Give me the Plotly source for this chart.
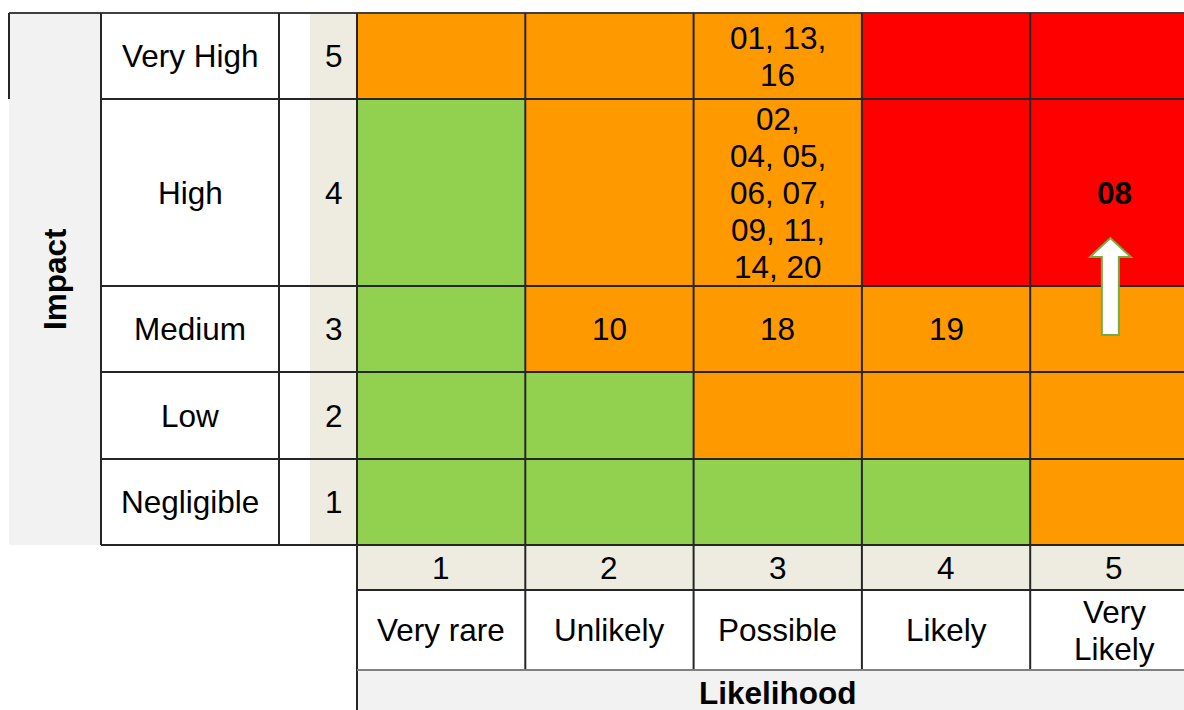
import plotly.graph_objects as go

# ---------------- data ----------------
impact_levels = [5, 4, 3, 2, 1]
impact_labels = ["Very High", "High", "Medium", "Low", "Negligible"]
likelihood_levels = [1, 2, 3, 4, 5]
likelihood_labels = ["Very rare", "Unlikely", "Possible", "Likely", "Very<br>Likely"]

# risk rating per cell (rows: impact 5..1, cols: likelihood 1..5)
# 0 = low (green), 1 = medium (orange), 2 = high (red)
risk_rating = [
    [1, 1, 1, 2, 2],
    [0, 1, 1, 2, 2],
    [0, 1, 1, 1, 1],
    [0, 0, 1, 1, 1],
    [0, 0, 0, 0, 1],
]
risk_ids = [
    ["", "", "01, 13,<br>16", "", ""],
    ["", "", "02,<br>04, 05,<br>06, 07,<br>09, 11,<br>14, 20", "", "<b>08</b>"],
    ["", "10", "18", "19", ""],
    ["", "", "", "", ""],
    ["", "", "", "", ""],
]
# movement of risk 08: (likelihood, impact) from -> to
arrow_from = (5, 3)
arrow_to = (5, 4)

rating_colors = ["#92D050", "#FF9900", "#FF0000"]
axis_titles = ["Impact", "Likelihood"]

# ---------------- layout geometry ----------------
W, H = 1184, 710
FS = 31.5
LH = 37
FONT = "Liberation Sans, Arial, sans-serif"
GRAY = "#F2F2F2"
BEIGE = "#EEECE1"
LINE = "#262626"

gray_x0, label_x0, blank_x0, num_x0, grid_x0 = 9, 101, 279, 310, 357
col_w = 168.3
top = 13
row_h = [86, 187, 86, 87, 86]
y_edges = [top]
for h in row_h:
    y_edges.append(y_edges[-1] + h)
x_edges = [grid_x0 + i * col_w for i in range(len(likelihood_levels) + 1)]
bottom = y_edges[-1]
num_row = (bottom, bottom + 45)
lab_row = (num_row[1], num_row[1] + 80)
title_row = (lab_row[1], lab_row[1] + 48)

fig = go.Figure()

# matrix cells via heatmap with bin edges
fig.add_trace(go.Heatmap(
    z=risk_rating, x=x_edges, y=y_edges,
    colorscale=[[0, rating_colors[0]], [0.333, rating_colors[0]],
                [0.334, rating_colors[1]], [0.666, rating_colors[1]],
                [0.667, rating_colors[2]], [1, rating_colors[2]]],
    zmin=0, zmax=2, showscale=False, hoverinfo="skip",
))

shapes = []

def rect(x0, x1, y0, y1, color):
    shapes.append(dict(type="rect", x0=x0, x1=x1, y0=y0, y1=y1, xref="x", yref="y",
                       fillcolor=color, line=dict(width=0), layer="below"))

def line(x0, y0, x1, y1, color=LINE, width=2):
    shapes.append(dict(type="line", x0=x0, x1=x1, y0=y0, y1=y1, xref="x", yref="y",
                       line=dict(color=color, width=width), layer="above"))

# backgrounds
rect(gray_x0, label_x0, top, bottom, GRAY)
rect(num_x0, grid_x0, top, bottom, BEIGE)
rect(grid_x0, W + 20, num_row[0], num_row[1], BEIGE)
rect(grid_x0, W + 20, title_row[0], title_row[1], GRAY)

# borders
line(gray_x0, top, W + 20, top, color="#404040")
line(gray_x0, top, gray_x0, y_edges[1])
line(label_x0, top, label_x0, bottom)
line(blank_x0, top, blank_x0, bottom)
for ye in y_edges[1:]:
    line(label_x0, ye, W + 20, ye)
line(grid_x0, top, grid_x0, H + 20)
for xe in x_edges[1:-1]:
    line(xe, top, xe, lab_row[1])
line(grid_x0, num_row[1], W + 20, num_row[1])
line(grid_x0, lab_row[1], W + 20, lab_row[1], color="#808080")

annotations = []

def text(cx, cy, t, bold=False, angle=0):
    parts = t.split("<br>")
    n = len(parts)
    for i, p in enumerate(parts):
        annotations.append(dict(
            x=cx, y=cy + (i - (n - 1) / 2) * LH, xref="x", yref="y",
            text=f"<b>{p}</b>" if bold else p, showarrow=False,
            xanchor="center", yanchor="middle", textangle=angle,
            font=dict(family=FONT, size=FS, color="#000000")))

# impact labels / levels
for r, (lvl, lab) in enumerate(zip(impact_levels, impact_labels)):
    cy = (y_edges[r] + y_edges[r + 1]) / 2
    text((label_x0 + blank_x0) / 2, cy, lab)
    text((num_x0 + grid_x0) / 2, cy, str(lvl))

# likelihood levels / labels
for c, (lvl, lab) in enumerate(zip(likelihood_levels, likelihood_labels)):
    cx = (x_edges[c] + x_edges[c + 1]) / 2
    text(cx, sum(num_row) / 2, str(lvl))
    text(cx, sum(lab_row) / 2, lab)

# risk IDs
for r in range(len(impact_levels)):
    for c in range(len(likelihood_levels)):
        if risk_ids[r][c]:
            cx = (x_edges[c] + x_edges[c + 1]) / 2
            cy = (y_edges[r] + y_edges[r + 1]) / 2
            text(cx, cy, risk_ids[r][c])

# axis titles
text((gray_x0 + label_x0) / 2, (top + bottom) / 2, axis_titles[0], bold=True, angle=-90)
text((x_edges[0] + x_edges[-1]) / 2, title_row[0] + 23, axis_titles[1], bold=True)

# arrow for risk movement
c_from = likelihood_levels.index(arrow_from[0])
r_from = impact_levels.index(arrow_from[1])
r_to = impact_levels.index(arrow_to[1])
ax = (x_edges[c_from] + x_edges[c_from + 1]) / 2 - 4
y_base = (y_edges[r_from] + y_edges[r_from + 1]) / 2 + 6
y_tip = (y_edges[r_to] + y_edges[r_to + 1]) / 2 + 45.5
hw_shaft, hw_head, head_len = 8.5, 20.5, 19
path = (f"M {ax - hw_shaft},{y_base} L {ax - hw_shaft},{y_tip + head_len} "
        f"L {ax - hw_head},{y_tip + head_len} L {ax},{y_tip} "
        f"L {ax + hw_head},{y_tip + head_len} L {ax + hw_shaft},{y_tip + head_len} "
        f"L {ax + hw_shaft},{y_base} Z")
shapes.append(dict(type="path", path=path, xref="x", yref="y",
                   fillcolor="#FFFFFF", line=dict(color="#70AD47", width=2), layer="above"))

fig.update_layout(
    width=W, height=H,
    margin=dict(l=0, r=0, t=0, b=0),
    paper_bgcolor="#FFFFFF", plot_bgcolor="#FFFFFF",
    xaxis=dict(range=[0, W], visible=False, fixedrange=True),
    yaxis=dict(range=[H, 0], visible=False, fixedrange=True),
    shapes=shapes, annotations=annotations,
    showlegend=False,
)

fig.write_html(
    "out.html",
    config={"displayModeBar": False},
    post_script="document.body.style.margin='0px';document.body.style.overflow='hidden';",
)
